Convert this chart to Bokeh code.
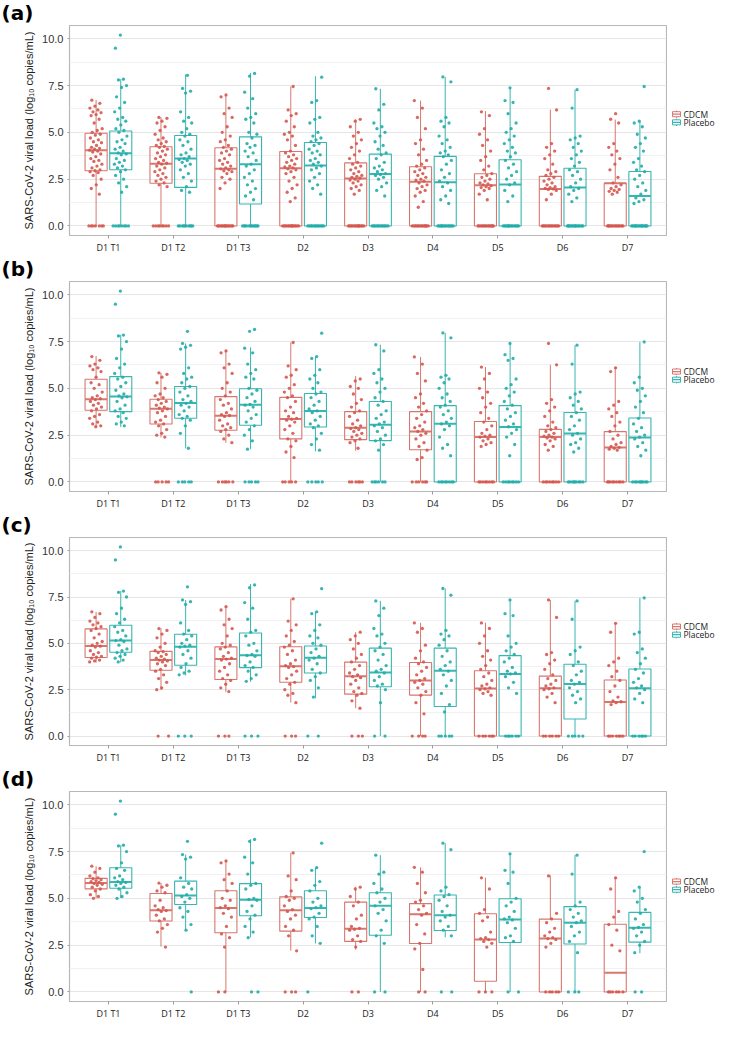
from bokeh.plotting import figure
from bokeh.models import Range1d, FixedTicker, PrintfTickFormatter
from bokeh.layouts import column, row
from bokeh.embed import file_html
from bokeh.resources import INLINE
from bokeh.core.properties import value

CATEGORIES = ["D1 T1", "D1 T2", "D1 T3", "D2", "D3", "D4", "D5", "D6", "D7"]
GROUPS = ["CDCM", "Placebo"]
PANEL_LABELS = ["(a)", "(b)", "(c)", "(d)"]
Y_TICKS = [0.0, 2.5, 5.0, 7.5, 10.0]
Y_MINOR = [1.25, 3.75, 6.25, 8.75]
Y_TITLE = "SARS-CoV-2 viral load (log\u2081\u2080 copies/mL)"

# box statistics per category: (lower whisker, Q1, median, Q3, upper whisker)
A_CDCM_BOX = [(0, 2.95, 4.05, 4.95, 6.73), (0, 2.28, 3.33, 4.23, 5.8), (0, 0, 3.06, 4.18, 7.0),
              (0, 0, 3.08, 3.98, 7.45), (0, 0, 2.53, 3.37, 5.7), (0, 0, 2.36, 3.16, 6.7),
              (0, 0, 2.18, 2.79, 6.14), (0, 0, 1.97, 2.65, 6.22), (0, 0, 2.28, 2.28, 5.68)]
A_PLAC_BOX = [(0, 3.0, 3.88, 5.07, 7.84), (0, 2.06, 3.6, 4.83, 8.1), (0, 1.17, 3.3, 4.76, 8.18),
              (0, 0, 3.23, 4.46, 8.0), (0, 0, 2.77, 3.84, 7.33), (0, 0, 2.33, 3.72, 7.96),
              (0, 0, 2.21, 3.54, 7.38), (0, 0, 2.06, 3.08, 7.28), (0, 0, 1.6, 2.91, 5.63)]
B_CDCM_BOX = [(2.94, 3.83, 4.42, 5.49, 6.73), (2.38, 3.1, 3.91, 4.42, 5.83), (2.09, 2.76, 3.54, 4.56, 7.06),
              (0, 2.3, 3.37, 4.52, 7.45), (1.67, 2.26, 2.89, 3.76, 5.66), (0, 1.72, 2.69, 3.76, 6.68),
              (0, 0, 2.4, 3.23, 6.14), (0, 0, 2.4, 2.81, 6.26), (0, 0, 1.84, 2.69, 6.14)]
B_PLAC_BOX = [(2.94, 3.76, 4.56, 5.63, 7.87), (1.8, 3.4, 4.22, 5.1, 7.4), (1.75, 3.03, 4.13, 4.98, 7.19),
              (1.63, 2.94, 3.79, 4.73, 6.68), (0, 2.21, 3.06, 4.3, 7.33), (0, 0, 3.11, 4.08, 7.96),
              (0, 0, 2.94, 4.08, 7.4), (0, 0, 2.59, 3.71, 7.31), (0, 0, 2.38, 3.42, 7.48)]
C_CDCM_BOX = [(3.97, 4.24, 4.86, 5.78, 6.7), (2.48, 3.55, 4.1, 4.57, 5.81), (2.38, 3.05, 4.15, 4.81, 6.98),
              (1.81, 2.9, 3.77, 4.82, 7.4), (1.5, 2.26, 3.22, 3.99, 5.6), (0, 2.21, 3.0, 3.97, 6.11),
              (0, 0, 2.56, 3.52, 6.11), (0, 0, 2.58, 3.23, 7.34), (0, 0, 1.84, 3.02, 6.08)]
C_PLAC_BOX = [(3.97, 4.52, 5.16, 5.98, 7.82), (3.27, 3.82, 4.82, 5.49, 7.34), (2.93, 3.69, 4.36, 5.56, 8.2),
              (2.04, 3.4, 4.22, 4.86, 6.7), (0, 2.66, 3.43, 4.74, 7.29), (0, 1.59, 3.52, 4.74, 7.96),
              (0, 0, 3.35, 4.34, 7.34), (0, 0.92, 2.81, 3.87, 7.29), (0, 0, 2.58, 3.62, 7.45)]
D_CDCM_BOX = [(5.0, 5.51, 5.82, 6.07, 6.72), (2.43, 3.79, 4.36, 5.26, 5.82), (0, 3.16, 4.48, 5.41, 7.02),
              (2.21, 3.25, 4.36, 5.08, 7.43), (2.26, 2.7, 3.38, 4.8, 5.62), (0, 2.59, 4.15, 4.72, 6.66),
              (0, 0.57, 2.8, 4.18, 6.11), (0, 0, 2.85, 3.89, 6.23), (0, 0, 1.03, 3.62, 6.11)]
D_PLAC_BOX = [(5.02, 5.54, 5.87, 6.64, 7.84), (3.33, 4.67, 5.16, 5.92, 7.34), (2.92, 4.07, 4.93, 5.79, 8.16),
              (2.59, 3.98, 4.48, 5.41, 6.64), (0, 3.03, 4.61, 5.3, 7.31), (2.92, 3.28, 4.1, 5.18, 7.95),
              (0, 2.64, 3.87, 4.98, 7.38), (0, 2.56, 3.7, 4.56, 7.31), (2.07, 2.66, 3.43, 4.25, 5.62)]

# individual non-zero viral loads per category
A_CDCM_PTS = [
    [6.72, 6.55, 6.4, 6.3, 6.2, 6.1, 6.05, 5.95, 5.9, 5.7, 5.5, 5.2, 5.1, 5.0, 4.9, 4.85, 4.7, 4.6, 4.5, 4.45,
     4.3, 4.2, 4.15, 4.1, 4.05, 4.0, 3.95, 3.85, 3.7, 3.6, 3.5, 3.45, 3.3, 3.2, 3.1, 3.0, 2.95, 2.9, 2.85, 2.7,
     2.5, 2.2, 2.0, 1.7],
    [5.8, 5.75, 5.6, 5.5, 5.3, 5.1, 4.9, 4.7, 4.6, 4.5, 4.4, 4.3, 4.25, 4.2, 4.1, 4.0, 3.9, 3.8, 3.7, 3.6,
     3.5, 3.4, 3.35, 3.3, 3.2, 3.1, 3.0, 2.9, 2.8, 2.7, 2.6, 2.5, 2.4, 2.3, 2.2, 2.1],
    [7.0, 6.9, 6.3, 6.0, 5.8, 5.3, 5.0, 4.8, 4.6, 4.5, 4.3, 4.2, 4.1, 4.0, 3.9, 3.8, 3.6, 3.5, 3.4, 3.3,
     3.2, 3.1, 3.05, 3.0, 2.95, 2.9, 2.8, 2.6, 2.5, 2.3, 2.0],
    [7.45, 6.2, 6.0, 5.9, 5.6, 5.3, 5.0, 4.9, 4.8, 4.6, 4.3, 4.0, 3.9, 3.8, 3.7, 3.6, 3.5, 3.4, 3.3, 3.2,
     3.15, 3.1, 3.05, 3.0, 2.9, 2.8, 2.6, 2.4, 2.2, 2.0, 1.8, 1.5, 1.3],
    [5.7, 5.6, 5.3, 5.0, 4.8, 4.6, 4.4, 4.2, 4.0, 3.8, 3.6, 3.4, 3.3, 3.2, 3.1, 3.0, 2.9, 2.8, 2.7, 2.65,
     2.6, 2.55, 2.5, 2.45, 2.4, 2.3, 2.2, 2.1, 2.0, 1.9, 1.7],
    [6.7, 6.3, 5.8, 5.2, 4.6, 4.4, 4.1, 3.8, 3.5, 3.3, 3.2, 3.1, 3.0, 2.9, 2.8, 2.7, 2.6, 2.5, 2.45, 2.4,
     2.3, 2.2, 2.1, 2.0, 1.9, 1.8, 1.6, 1.3, 1.0],
    [6.1, 5.9, 5.2, 4.9, 4.6, 4.3, 4.0, 3.7, 3.5, 3.2, 3.0, 2.8, 2.7, 2.6, 2.5, 2.4, 2.3, 2.25, 2.2, 2.15,
     2.1, 2.05, 2.0, 1.9, 1.7, 1.4],
    [7.35, 6.2, 4.4, 4.2, 4.0, 3.8, 3.6, 3.3, 3.0, 2.9, 2.8, 2.7, 2.6, 2.5, 2.4, 2.3, 2.2, 2.1, 2.05, 2.0,
     1.98, 1.95, 1.9, 1.7, 1.4],
    [6.0, 5.7, 5.5, 4.4, 4.2, 4.0, 3.8, 3.6, 3.3, 3.0, 2.6, 2.3, 2.2, 2.1, 2.0, 1.95, 1.9, 1.85, 1.8, 1.7],
]
A_PLAC_PTS = [
    [10.2, 9.5, 7.84, 7.8, 7.5, 7.4, 6.9, 6.6, 6.3, 6.1, 5.8, 5.7, 5.6, 5.4, 5.2, 5.1, 5.0, 4.8, 4.6, 4.5,
     4.4, 4.2, 4.1, 4.0, 3.9, 3.85, 3.8, 3.6, 3.5, 3.4, 3.3, 3.2, 3.1, 3.0, 2.9, 2.7, 2.5, 2.3, 2.1, 1.8],
    [8.05, 7.35, 7.2, 7.1, 6.1, 5.8, 5.6, 5.5, 5.2, 5.0, 4.9, 4.8, 4.6, 4.5, 4.3, 4.1, 3.9, 3.8, 3.7, 3.6,
     3.55, 3.5, 3.4, 3.3, 3.2, 3.0, 2.8, 2.6, 2.4, 2.1, 1.9, 1.8],
    [8.15, 8.0, 7.15, 6.8, 6.3, 6.0, 5.8, 5.7, 5.5, 5.0, 4.9, 4.7, 4.4, 4.3, 4.2, 4.0, 3.9, 3.7, 3.5, 3.3,
     3.2, 3.0, 2.8, 2.6, 2.4, 2.2, 2.0, 1.8, 1.6, 1.4],
    [7.95, 6.7, 6.6, 5.8, 5.7, 5.5, 5.0, 4.8, 4.7, 4.6, 4.5, 4.4, 4.3, 4.1, 4.0, 3.9, 3.8, 3.6, 3.5, 3.4,
     3.3, 3.2, 3.1, 3.0, 2.8, 2.6, 2.4, 2.2, 2.0, 1.7],
    [7.33, 6.5, 6.2, 5.5, 5.3, 5.2, 5.0, 4.8, 4.5, 4.3, 4.1, 3.9, 3.8, 3.6, 3.4, 3.2, 3.1, 3.0, 2.9, 2.8,
     2.75, 2.7, 2.6, 2.5, 2.3, 2.1, 1.9, 1.6],
    [7.96, 7.7, 5.8, 5.6, 5.5, 5.3, 4.8, 4.6, 4.4, 4.2, 4.0, 3.9, 3.8, 3.7, 3.5, 3.3, 3.0, 2.8, 2.6, 2.4,
     2.3, 2.1, 1.9, 1.6, 1.4, 1.2],
    [7.38, 6.7, 6.6, 6.0, 5.5, 5.2, 5.0, 4.8, 4.6, 4.4, 4.2, 4.0, 3.9, 3.7, 3.5, 3.3, 3.1, 2.9, 2.7, 2.5,
     2.3, 2.2, 1.9, 1.6, 1.3],
    [7.28, 6.3, 4.8, 4.7, 4.6, 4.4, 4.2, 4.0, 3.8, 3.6, 3.4, 3.2, 3.0, 2.9, 2.7, 2.5, 2.3, 2.1, 2.0, 1.9,
     1.7, 1.5, 1.3],
    [7.45, 5.6, 5.5, 5.3, 4.9, 4.7, 4.4, 4.2, 4.0, 3.6, 3.4, 3.2, 3.0, 2.9, 2.7, 2.5, 2.3, 2.1, 1.9, 1.7,
     1.5, 1.4, 1.3, 1.2],
]
B_CDCM_PTS = [
    [6.7, 6.5, 6.3, 6.2, 6.1, 6.0, 5.9, 5.6, 5.3, 5.2, 5.0, 4.8, 4.6, 4.5, 4.45, 4.4, 4.3, 4.2, 4.1, 4.0,
     3.9, 3.8, 3.6, 3.5, 3.4, 3.2, 3.1, 3.0, 2.95],
    [5.83, 5.75, 5.6, 5.3, 5.0, 4.7, 4.6, 4.5, 4.4, 4.3, 4.2, 4.1, 4.0, 3.95, 3.9, 3.8, 3.7, 3.5, 3.3, 3.2,
     3.1, 3.0, 2.8, 2.6, 2.5, 2.4],
    [7.0, 6.9, 6.3, 6.1, 5.8, 5.3, 5.0, 4.8, 4.6, 4.4, 4.2, 4.1, 3.9, 3.7, 3.6, 3.55, 3.5, 3.3, 3.1, 3.0,
     2.9, 2.8, 2.7, 2.5, 2.3, 2.1],
    [7.45, 6.2, 6.0, 5.7, 5.6, 5.2, 5.0, 4.8, 4.6, 4.5, 4.3, 4.0, 3.8, 3.7, 3.5, 3.4, 3.35, 3.3, 3.2, 3.0,
     2.8, 2.6, 2.3, 2.2, 1.9, 1.6, 1.3],
    [5.5, 5.4, 5.1, 5.0, 4.7, 4.4, 4.2, 4.0, 3.8, 3.7, 3.5, 3.3, 3.1, 3.0, 2.9, 2.85, 2.8, 2.7, 2.6, 2.5,
     2.4, 2.3, 2.2, 2.1, 1.8],
    [6.68, 6.3, 5.8, 5.4, 4.7, 4.5, 4.2, 4.0, 3.8, 3.6, 3.4, 3.2, 3.0, 2.9, 2.8, 2.7, 2.6, 2.5, 2.3, 2.1,
     1.9, 1.7, 1.3, 1.2],
    [6.14, 5.8, 5.5, 5.0, 4.8, 4.5, 4.2, 4.0, 3.7, 3.4, 3.2, 3.0, 2.8, 2.6, 2.5, 2.45, 2.4, 2.3, 2.2, 2.1,
     2.0, 1.9],
    [7.4, 6.26, 4.4, 4.2, 4.0, 3.8, 3.5, 3.2, 3.0, 2.9, 2.8, 2.7, 2.6, 2.5, 2.45, 2.4, 2.35, 2.3, 2.2, 2.0,
     1.9, 1.7],
    [6.1, 5.9, 4.3, 4.1, 3.9, 3.7, 3.5, 3.2, 3.0, 2.7, 2.5, 2.3, 2.1, 2.0, 1.9, 1.85, 1.8, 1.75, 1.7],
]
B_PLAC_PTS = [
    [10.2, 9.5, 7.85, 7.8, 7.5, 7.1, 6.6, 6.3, 6.1, 5.8, 5.6, 5.5, 5.3, 5.1, 4.9, 4.7, 4.6, 4.55, 4.5, 4.3,
     4.1, 3.9, 3.8, 3.7, 3.5, 3.4, 3.2, 3.1, 3.0],
    [8.05, 7.4, 7.3, 7.2, 7.1, 6.1, 5.8, 5.6, 5.5, 5.3, 5.1, 5.0, 4.8, 4.6, 4.4, 4.3, 4.2, 4.1, 4.0, 3.8,
     3.6, 3.5, 3.4, 3.3, 3.0, 2.6, 1.8],
    [8.15, 8.05, 7.15, 6.9, 6.3, 6.0, 5.8, 5.6, 5.5, 5.0, 4.9, 4.7, 4.5, 4.3, 4.15, 4.1, 4.0, 3.8, 3.6, 3.4,
     3.2, 3.0, 2.8, 2.5, 2.2, 1.75],
    [7.95, 6.7, 6.6, 6.0, 5.7, 5.5, 5.3, 5.0, 4.8, 4.7, 4.5, 4.3, 4.1, 3.9, 3.8, 3.7, 3.5, 3.3, 3.1, 3.0,
     2.9, 2.6, 2.3, 2.0, 1.7],
    [7.33, 7.0, 6.0, 5.8, 5.5, 5.3, 5.0, 4.8, 4.5, 4.3, 4.1, 3.8, 3.6, 3.4, 3.2, 3.1, 3.0, 2.9, 2.7, 2.5,
     2.3, 2.2, 2.0, 1.7],
    [7.96, 7.7, 5.7, 5.6, 5.5, 5.3, 5.0, 4.7, 4.5, 4.3, 4.1, 4.0, 3.8, 3.6, 3.4, 3.2, 3.1, 3.0, 2.8, 2.4,
     2.0, 1.8, 1.4],
    [7.4, 6.8, 6.6, 6.5, 5.5, 5.2, 5.0, 4.8, 4.6, 4.3, 4.1, 3.9, 3.7, 3.5, 3.3, 3.1, 2.95, 2.8, 2.6, 2.4,
     2.0, 1.4],
    [7.31, 6.3, 4.8, 4.7, 4.5, 4.3, 4.1, 3.9, 3.7, 3.5, 3.3, 3.0, 2.8, 2.6, 2.5, 2.3, 2.1, 2.0, 1.8, 1.6],
    [7.48, 5.6, 5.3, 5.0, 4.9, 4.6, 4.3, 4.0, 3.7, 3.4, 3.1, 2.9, 2.7, 2.5, 2.4, 2.3, 2.1, 1.9, 1.7, 1.4],
]
C_CDCM_PTS = [
    [6.7, 6.6, 6.4, 6.2, 6.1, 6.0, 5.9, 5.8, 5.7, 5.5, 5.3, 5.1, 5.0, 4.9, 4.85, 4.8, 4.6, 4.5, 4.4, 4.3,
     4.25, 4.2, 4.1, 4.05, 4.0],
    [5.8, 5.7, 5.5, 5.3, 5.0, 4.8, 4.6, 4.55, 4.5, 4.4, 4.3, 4.2, 4.15, 4.1, 4.05, 4.0, 3.9, 3.8, 3.6, 3.5,
     3.3, 3.1, 2.9, 2.6, 2.5],
    [6.98, 6.8, 6.3, 6.0, 5.8, 5.4, 5.0, 4.9, 4.8, 4.7, 4.5, 4.3, 4.2, 4.15, 4.1, 3.9, 3.7, 3.5, 3.3, 3.1,
     3.0, 2.8, 2.6, 2.4],
    [7.4, 6.2, 6.0, 5.7, 5.4, 5.1, 4.9, 4.8, 4.6, 4.4, 4.1, 3.9, 3.8, 3.75, 3.7, 3.5, 3.3, 3.1, 2.9, 2.8,
     2.5, 2.3, 2.2, 1.8],
    [5.6, 5.4, 5.2, 5.0, 4.7, 4.4, 4.2, 4.0, 3.8, 3.6, 3.4, 3.3, 3.2, 3.15, 3.0, 2.8, 2.6, 2.4, 2.3, 2.2,
     1.9, 1.5],
    [6.1, 5.8, 5.6, 4.9, 4.6, 4.2, 4.0, 3.9, 3.7, 3.5, 3.3, 3.1, 3.0, 2.9, 2.8, 2.6, 2.4, 2.2, 1.8, 1.2],
    [6.1, 5.8, 5.4, 5.0, 4.6, 4.3, 4.1, 3.8, 3.6, 3.4, 3.2, 3.0, 2.8, 2.7, 2.6, 2.55, 2.5, 2.4, 2.3, 2.2],
    [7.34, 6.4, 4.5, 4.4, 4.1, 3.9, 3.6, 3.3, 3.1, 3.0, 2.8, 2.7, 2.6, 2.55, 2.5, 2.3, 2.1, 1.8],
    [6.08, 5.6, 4.2, 4.0, 3.8, 3.5, 3.2, 3.0, 2.7, 2.4, 2.1, 1.9, 1.85, 1.8, 1.7],
]
C_PLAC_PTS = [
    [10.2, 9.5, 7.82, 7.75, 7.5, 6.9, 6.6, 6.3, 6.1, 5.9, 5.7, 5.6, 5.4, 5.2, 5.15, 5.1, 4.9, 4.7, 4.6, 4.5,
     4.4, 4.3, 4.2, 4.1, 4.0],
    [8.05, 7.34, 7.25, 7.1, 6.1, 5.7, 5.5, 5.4, 5.2, 5.0, 4.9, 4.85, 4.8, 4.6, 4.4, 4.2, 3.9, 3.7, 3.5, 3.4, 3.3],
    [8.15, 8.0, 7.2, 6.9, 6.3, 5.7, 5.6, 5.4, 5.0, 4.9, 4.6, 4.4, 4.35, 4.3, 4.0, 3.8, 3.7, 3.5, 3.3, 3.1, 2.95],
    [7.95, 6.7, 6.6, 6.0, 5.7, 5.4, 5.3, 5.0, 4.9, 4.7, 4.5, 4.3, 4.2, 4.1, 3.9, 3.6, 3.4, 3.2, 3.0, 2.6, 2.1],
    [7.29, 6.9, 6.5, 5.8, 5.5, 5.4, 5.0, 4.8, 4.6, 4.4, 4.1, 3.8, 3.6, 3.5, 3.4, 3.2, 3.0, 2.8, 2.7, 2.5, 1.8],
    [7.96, 7.6, 5.7, 5.5, 5.4, 5.2, 4.9, 4.6, 4.3, 4.0, 3.8, 3.6, 3.5, 3.3, 3.0, 2.7, 2.3, 1.7, 1.3],
    [7.34, 6.6, 6.5, 5.4, 5.0, 4.8, 4.6, 4.4, 4.2, 4.0, 3.7, 3.5, 3.4, 3.35, 3.2, 2.9, 2.6, 2.3],
    [7.29, 6.3, 4.8, 4.6, 4.4, 4.0, 3.8, 3.5, 3.3, 3.0, 2.9, 2.8, 2.6, 2.4, 2.2, 2.0, 1.8],
    [7.45, 5.6, 5.5, 4.7, 4.5, 4.2, 3.9, 3.6, 3.4, 3.1, 2.9, 2.7, 2.6, 2.5, 2.3, 2.0, 1.8],
]
D_CDCM_PTS = [
    [6.72, 6.6, 6.4, 6.2, 6.1, 6.05, 6.0, 5.95, 5.9, 5.85, 5.8, 5.75, 5.7, 5.6, 5.5, 5.4, 5.2, 5.1, 5.0],
    [5.82, 5.7, 5.6, 5.4, 5.3, 4.9, 4.6, 4.5, 4.4, 4.35, 4.3, 4.1, 3.9, 3.8, 3.6, 3.4, 3.2, 2.4],
    [7.0, 6.9, 6.3, 6.0, 5.8, 5.4, 5.0, 4.9, 4.6, 4.5, 4.45, 4.2, 4.0, 3.5, 3.1, 2.9, 2.4],
    [7.43, 6.2, 6.0, 5.4, 5.1, 5.0, 4.9, 4.6, 4.4, 4.3, 4.1, 3.9, 3.5, 3.3, 3.0, 2.2],
    [5.6, 5.5, 5.1, 4.8, 4.6, 4.1, 3.9, 3.5, 3.4, 3.35, 3.3, 3.0, 2.8, 2.7, 2.4],
    [6.66, 6.4, 5.8, 5.3, 4.9, 4.8, 4.6, 4.4, 4.2, 4.1, 3.6, 3.1, 2.6, 2.3, 1.2],
    [6.1, 5.5, 4.4, 4.2, 4.0, 3.8, 3.2, 2.9, 2.85, 2.8, 2.7, 2.6, 2.4],
    [6.2, 4.2, 3.9, 3.7, 3.4, 3.2, 3.0, 2.9, 2.85, 2.8, 2.6, 2.4],
    [6.1, 5.5, 4.3, 4.0, 3.6, 3.3, 2.5, 2.2],
]
D_PLAC_PTS = [
    [10.2, 9.5, 7.84, 7.8, 7.5, 6.9, 6.6, 6.5, 6.2, 6.1, 6.0, 5.9, 5.85, 5.8, 5.7, 5.6, 5.5, 5.3, 5.1, 5.0],
    [8.05, 7.34, 7.2, 7.1, 6.1, 5.8, 5.6, 5.5, 5.2, 5.1, 5.0, 4.8, 4.5, 4.3, 4.0, 3.6, 3.3],
    [8.15, 8.05, 7.2, 6.9, 6.3, 5.8, 5.7, 5.5, 5.0, 4.95, 4.9, 4.6, 4.3, 4.1, 3.9, 3.5, 3.2, 2.9],
    [7.95, 6.64, 6.5, 5.9, 5.7, 5.4, 5.0, 4.8, 4.6, 4.5, 4.45, 4.2, 4.0, 3.9, 3.5, 3.0, 2.6],
    [7.31, 6.4, 6.3, 5.8, 5.5, 5.3, 5.0, 4.8, 4.6, 4.4, 4.2, 3.8, 3.3, 3.0, 2.6],
    [7.95, 7.6, 5.6, 5.4, 5.2, 5.1, 4.9, 4.6, 4.3, 4.1, 4.0, 3.8, 3.5, 3.3, 3.0],
    [7.38, 6.5, 6.4, 5.8, 5.0, 4.8, 4.6, 4.3, 4.0, 3.9, 3.85, 3.7, 3.4, 3.0, 2.9, 2.7],
    [7.31, 6.3, 4.8, 4.6, 4.4, 4.2, 4.0, 3.8, 3.7, 3.5, 3.2, 3.0, 2.7, 2.1],
    [7.5, 5.6, 5.4, 5.0, 4.8, 4.4, 4.2, 3.9, 3.6, 3.45, 3.4, 3.2, 3.0, 2.7, 2.5, 2.1],
]

# number of samples with undetectable (0) viral load per category
A_CDCM_ZEROS = [7, 8, 14, 14, 14, 14, 14, 14, 14]
A_PLAC_ZEROS = [8, 10, 12, 13, 13, 14, 14, 15, 16]
B_CDCM_ZEROS = [0, 5, 6, 5, 6, 6, 8, 8, 9]
B_PLAC_ZEROS = [0, 5, 5, 5, 6, 8, 8, 9, 9]
C_CDCM_ZEROS = [0, 2, 3, 3, 3, 4, 6, 6, 7]
C_PLAC_ZEROS = [0, 3, 3, 2, 2, 5, 6, 5, 6]
D_CDCM_ZEROS = [0, 0, 2, 3, 2, 2, 3, 5, 6]
D_PLAC_ZEROS = [0, 1, 2, 1, 2, 2, 2, 3, 2]

PANELS = [
    (A_CDCM_BOX, A_PLAC_BOX, A_CDCM_PTS, A_PLAC_PTS, A_CDCM_ZEROS, A_PLAC_ZEROS),
    (B_CDCM_BOX, B_PLAC_BOX, B_CDCM_PTS, B_PLAC_PTS, B_CDCM_ZEROS, B_PLAC_ZEROS),
    (C_CDCM_BOX, C_PLAC_BOX, C_CDCM_PTS, C_PLAC_PTS, C_CDCM_ZEROS, C_PLAC_ZEROS),
    (D_CDCM_BOX, D_PLAC_BOX, D_CDCM_PTS, D_PLAC_PTS, D_CDCM_ZEROS, D_PLAC_ZEROS),
]

# ---- styling / layout ----
POINT_COLORS = ["#D4584F", "#22ADA8"]
LINE_COLORS = ["#D8776F", "#38B6B1"]
DODGE = [-0.19, 0.19]
BOX_HALF = 0.17
Y0, Y1 = -0.51, 10.71
X0, X1 = 0.4, 9.6
TOTAL_W = 715
LEG_W = 48
MAIN_W = TOTAL_W - LEG_W
LEFT = 69
# (label strip height, frame height, bottom border)
GEOM = [(24, 211, 20), (24, 214, 17), (24, 212, 17), (24, 214, 17)]


def jitter(n, half, phase):
    return [((k * 0.6180339887 + phase) % 1.0 - 0.5) * 2 * half for k in range(n)]


def bare_fig(w, h):
    f = figure(width=w, height=h, title=None, x_range=Range1d(0, w), y_range=Range1d(0, h),
               x_axis_type=None, y_axis_type=None, output_backend="svg", toolbar_location=None,
               min_border=0, min_border_left=0, min_border_right=0,
               min_border_top=0, min_border_bottom=0)
    f.outline_line_color = None
    f.background_fill_color = "white"
    f.border_fill_color = "white"
    return f


def make_strip(idx):
    sh = GEOM[idx][0]
    s = bare_fig(TOTAL_W, sh)
    s.text(x=[1], y=[0], text=[PANEL_LABELS[idx]], text_font=value("DejaVu Sans"),
           text_font_style=value("bold"), text_font_size=value("20px"),
           text_color="#000000", text_baseline="bottom", text_align="left")
    return s


def make_legend(idx):
    _, fh, bot = GEOM[idx]
    h = 1 + fh + bot
    lg = bare_fig(LEG_W, h)
    cy = bot + fh / 2.0 + 4
    ys = [cy + 4.5, cy - 4.5]
    kx0, kx1 = 5, 13
    lg.segment(x0=[(kx0 + kx1) / 2] * 2, x1=[(kx0 + kx1) / 2] * 2,
               y0=[y - 4 for y in ys], y1=[y + 4 for y in ys], line_color=LINE_COLORS, line_width=1)
    lg.quad(left=[kx0] * 2, right=[kx1] * 2, bottom=[y - 2.8 for y in ys], top=[y + 2.8 for y in ys],
            fill_color="white", line_color=LINE_COLORS, line_width=1)
    lg.segment(x0=[kx0] * 2, x1=[kx1] * 2, y0=ys, y1=ys, line_color=LINE_COLORS, line_width=1.2)
    lg.text(x=[16, 16], y=ys, text=GROUPS, text_font=value("Open Sans"),
            text_font_size=value("8.5px"), text_color="#222222",
            text_baseline="middle", text_align="left")
    return lg


def make_panel(idx):
    cbox, pbox, cpts, ppts, cz, pz = PANELS[idx]
    _, fh, bot = GEOM[idx]
    p = figure(width=MAIN_W, height=1 + fh + bot, title=None,
               x_range=Range1d(X0, X1), y_range=Range1d(Y0, Y1),
               output_backend="svg", toolbar_location=None,
               min_border_left=LEFT, min_border_right=1,
               min_border_top=1, min_border_bottom=bot)
    p.background_fill_color = "white"
    p.border_fill_color = "white"
    p.outline_line_color = "#B8B8B8"
    p.outline_line_width = 1.2

    for g, (boxes, pts, zeros) in enumerate([(cbox, cpts, cz), (pbox, ppts, pz)]):
        xs = [i + 1 + DODGE[g] for i in range(len(CATEGORIES))]
        wlo = [b[0] for b in boxes]
        q1 = [b[1] for b in boxes]
        med = [b[2] for b in boxes]
        q3 = [b[3] for b in boxes]
        whi = [b[4] for b in boxes]
        lc = LINE_COLORS[g]
        p.segment(x0=xs, y0=wlo, x1=xs, y1=q1, line_color=lc, line_width=1)
        p.segment(x0=xs, y0=q3, x1=xs, y1=whi, line_color=lc, line_width=1)
        p.quad(left=[x - BOX_HALF for x in xs], right=[x + BOX_HALF for x in xs],
               bottom=q1, top=q3, fill_color=None, line_color=lc, line_width=1.1)
        p.segment(x0=[x - BOX_HALF for x in xs], x1=[x + BOX_HALF for x in xs],
                  y0=med, y1=med, line_color=lc, line_width=2)

        px, py = [], []
        for i in range(len(CATEGORIES)):
            vals = pts[i]
            offs = jitter(len(vals), 0.10, 0.17 * (i + 1) + 0.3 * g)
            px += [xs[i] + o for o in offs]
            py += vals
            zoffs = jitter(zeros[i], 0.13, 0.11 * (i + 2) + 0.5 * g)
            px += [xs[i] + o for o in zoffs]
            py += [0.0] * zeros[i]
        p.scatter(px, py, size=3.3, fill_color=POINT_COLORS[g], line_color=None, fill_alpha=0.9)

    yt = FixedTicker(ticks=Y_TICKS, minor_ticks=Y_MINOR)
    p.yaxis.ticker = yt
    p.yaxis.formatter = PrintfTickFormatter(format="%.1f")
    p.yaxis.axis_label = Y_TITLE
    p.yaxis.axis_label_text_font = "Liberation Sans"
    p.yaxis.axis_label_text_font_size = "11px"
    p.yaxis.axis_label_text_font_style = "normal"
    p.yaxis.axis_label_text_color = "#222222"
    p.yaxis.axis_label_standoff = 4
    p.yaxis.major_label_text_font = "Liberation Sans"
    p.yaxis.major_label_text_font_size = "11px"
    p.yaxis.major_label_text_color = "#333333"
    p.yaxis.major_label_standoff = 2
    p.yaxis.major_tick_out = 2
    p.yaxis.major_tick_in = 0
    p.yaxis.major_tick_line_color = "#9A9A9A"
    p.yaxis.minor_tick_line_color = None
    p.yaxis.axis_line_color = None

    p.xaxis.ticker = FixedTicker(ticks=[i + 1 for i in range(len(CATEGORIES))])
    p.xaxis.major_label_overrides = {i + 1: c for i, c in enumerate(CATEGORIES)}
    p.xaxis.major_label_text_font = "Open Sans"
    p.xaxis.major_label_text_font_size = "9px"
    p.xaxis.major_label_text_color = "#222222"
    p.xaxis.major_label_standoff = 2
    p.xaxis.major_tick_out = 3
    p.xaxis.major_tick_in = 0
    p.xaxis.major_tick_line_color = "#9A9A9A"
    p.xaxis.minor_tick_line_color = None
    p.xaxis.axis_line_color = None

    p.xgrid.grid_line_color = None
    p.ygrid.grid_line_color = "#E6E6E6"
    p.ygrid.minor_grid_line_color = "#F1F1F1"
    return p


parts = []
for i in range(4):
    parts.append(make_strip(i))
    parts.append(row(make_panel(i), make_legend(i), spacing=0))

layout = column(*parts, spacing=0)
open("out.html", "w").write(file_html(layout, INLINE))
